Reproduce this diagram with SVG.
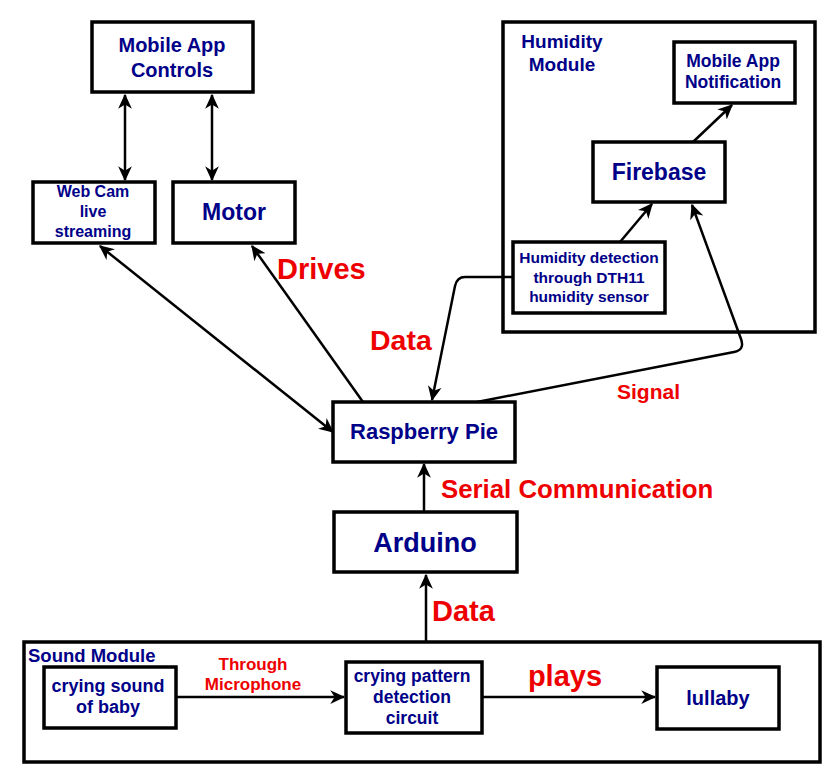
<svg xmlns="http://www.w3.org/2000/svg" width="837" height="784" viewBox="0 0 837 784">
<style>
.box{fill:#fff;stroke:#000;stroke-width:3.5}
.cont{fill:none;stroke:#000;stroke-width:3.5}
.t{font-family:"Liberation Sans",Arial,sans-serif;font-weight:bold;fill:#000088;text-anchor:middle}
.r{font-family:"Liberation Sans",Arial,sans-serif;font-weight:bold;fill:#ee0000}
.c{fill:none;stroke:#000;stroke-width:2.5}
</style>
<defs>
<marker id="a" viewBox="0 0 12 12" refX="11" refY="6" markerWidth="15" markerHeight="15" markerUnits="userSpaceOnUse" orient="auto-start-reverse">
<path d="M0,0.5 L12,6 L0,11.5 L3.5,6 z" fill="#000"/>
</marker>
</defs>
<rect x="0" y="0" width="837" height="784" fill="#fff"/>

<g id="humidity-module">
<rect class="cont" x="503" y="22" width="312" height="310"/>
<text class="t" x="562" y="48" font-size="19">Humidity</text>
<text class="t" x="562" y="71" font-size="19">Module</text>
</g>
<g id="sound-module">
<rect class="cont" x="24" y="642" width="796" height="120"/>
<text class="t" x="28" y="662" font-size="18.5" style="text-anchor:start">Sound Module</text>
</g>

<g id="connectors">
<line class="c" x1="125" y1="95" x2="125" y2="180" marker-start="url(#a)" marker-end="url(#a)"/>
<line class="c" x1="212" y1="95" x2="212" y2="180" marker-start="url(#a)" marker-end="url(#a)"/>
<line class="c" x1="363" y1="402" x2="252" y2="246" marker-end="url(#a)"/>
<line class="c" x1="100" y1="246" x2="333" y2="432" marker-start="url(#a)" marker-end="url(#a)"/>
<path class="c" d="M513,277 L465,277 Q457,277 455,286 L432,400" marker-end="url(#a)"/>
<path class="c" d="M477,402 L734,352 Q745,350 741,339 L692,205" marker-end="url(#a)"/>
<line class="c" x1="620" y1="242" x2="652" y2="204" marker-end="url(#a)"/>
<line class="c" x1="693" y1="142" x2="732" y2="105" marker-end="url(#a)"/>
<line class="c" x1="424" y1="512" x2="424" y2="464" marker-end="url(#a)"/>
<line class="c" x1="426" y1="642" x2="426" y2="575" marker-end="url(#a)"/>
<line class="c" x1="176" y1="697" x2="344" y2="697" marker-end="url(#a)"/>
<line class="c" x1="482" y1="697" x2="655" y2="697" marker-end="url(#a)"/>
</g>

<g id="mobile-app-controls">
<rect class="box" x="92" y="22" width="161" height="70"/>
<text class="t" x="172" y="52" font-size="20">Mobile App</text>
<text class="t" x="172" y="77" font-size="20">Controls</text>
</g>
<g id="web-cam">
<rect class="box" x="33" y="182" width="122" height="61"/>
<text class="t" x="93" y="197" font-size="16">Web Cam</text>
<text class="t" x="93" y="217" font-size="16">live</text>
<text class="t" x="93" y="237" font-size="16">streaming</text>
</g>
<g id="motor">
<rect class="box" x="173" y="182" width="122" height="61"/>
<text class="t" x="234" y="220" font-size="23">Motor</text>
</g>
<g id="mobile-app-notification">
<rect class="box" x="674" y="42" width="121" height="61"/>
<text class="t" x="733" y="67" font-size="17.5">Mobile App</text>
<text class="t" x="733" y="88" font-size="17.5">Notification</text>
</g>
<g id="firebase">
<rect class="box" x="593" y="142" width="132" height="60"/>
<text class="t" x="659" y="180" font-size="23">Firebase</text>
</g>
<g id="humidity-detection">
<rect class="box" x="513" y="242" width="152" height="71"/>
<text class="t" x="589" y="263" font-size="15.5">Humidity detection</text>
<text class="t" x="589" y="283" font-size="15.5">through DTH11</text>
<text class="t" x="589" y="302" font-size="15.5">humidity sensor</text>
</g>
<g id="raspberry-pie">
<rect class="box" x="333" y="402" width="182" height="60"/>
<text class="t" x="424" y="439" font-size="22">Raspberry Pie</text>
</g>
<g id="arduino">
<rect class="box" x="334" y="512" width="183" height="60"/>
<text class="t" x="425" y="552" font-size="27">Arduino</text>
</g>
<g id="crying-sound">
<rect class="box" x="44" y="667" width="132" height="61"/>
<text class="t" x="108" y="692" font-size="18">crying sound</text>
<text class="t" x="108" y="713" font-size="18">of baby</text>
</g>
<g id="crying-pattern">
<rect class="box" x="346" y="662" width="136" height="71"/>
<text class="t" x="412" y="682" font-size="17.5">crying pattern</text>
<text class="t" x="412" y="703" font-size="17.5">detection</text>
<text class="t" x="412" y="724" font-size="17.5">circuit</text>
</g>
<g id="lullaby">
<rect class="box" x="657" y="667" width="122" height="62"/>
<text class="t" x="718" y="705" font-size="20">lullaby</text>
</g>

<g id="labels">
<text class="r" x="277" y="279" font-size="29">Drives</text>
<text class="r" x="370" y="350" font-size="28.5">Data</text>
<text class="r" x="617" y="399" font-size="21">Signal</text>
<text class="r" x="441" y="498" font-size="25.8">Serial Communication</text>
<text class="r" x="432" y="621" font-size="29">Data</text>
<text class="r" x="253" y="670" font-size="17" text-anchor="middle">Through</text>
<text class="r" x="253" y="690" font-size="17" text-anchor="middle">Microphone</text>
<text class="r" x="565" y="686" font-size="29" text-anchor="middle">plays</text>
</g>
</svg>
